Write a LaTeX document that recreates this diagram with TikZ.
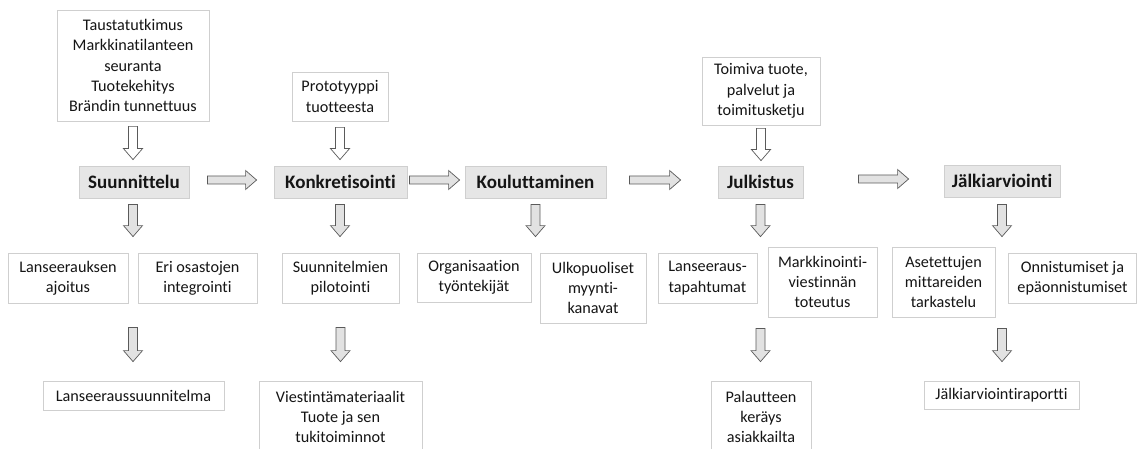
\documentclass[tikz,border=0pt]{standalone}
\usepackage{fontspec}
\setmainfont{Carlito}[Ligatures={NoCommon}]
\usetikzlibrary{calc}
\definecolor{boxline}{HTML}{CFCFCF}
\definecolor{phasefill}{HTML}{E6E6E6}
\definecolor{arrline}{HTML}{5A5A5A}
\definecolor{arrfill}{HTML}{E2E2E2}
\definecolor{txt}{HTML}{151515}
\begin{document}
\begin{tikzpicture}[x=1pt,y=-1pt,
  box/.style 2 args={draw=boxline, line width=0.8pt, fill=white, inner sep=0pt, align=center,
    text=txt, font=\fontsize{16.2}{20.3}\selectfont, minimum width=#1, minimum height=#2},
  phase/.style={draw=boxline, line width=0.8pt, fill=phasefill, inner sep=0pt,
    minimum height=32pt, minimum width=#1, text=txt, font=\fontsize{19}{23}\selectfont\bfseries},
  darrow/.style={draw=arrline, line width=0.7pt, fill=#1,
    to path={let \p1=(\tikztostart), \p2=(\tikztotarget) in
      (\x1-4.5pt,\y1) -- (\x1+4.5pt,\y1) -- (\x1+4.5pt,\y2+11pt) -- (\x1+9.5pt,\y2+11pt)
      -- (\x1,\y2) -- (\x1-9.5pt,\y2+11pt) -- (\x1-4.5pt,\y2+11pt) -- cycle}},
  darrow/.default=arrfill,
  rarrow/.style={draw=arrline, line width=0.7pt, fill=#1,
    to path={let \p1=(\tikztostart), \p2=(\tikztotarget) in
      (\x1,\y1-4pt) -- (\x2-11pt,\y1-4pt) -- (\x2-11pt,\y1-9.5pt) -- (\x2,\y1)
      -- (\x2-11pt,\y1+9.5pt) -- (\x2-11pt,\y1+4pt) -- (\x1,\y1+4pt) -- cycle}},
  rarrow/.default=arrfill]
\clip (0,0) rectangle (1137,449);
\fill[white] (0,0) rectangle (1137,449);

% input boxes
\node[box={152pt}{111pt}] (in1) at (133,65.5) {Taustatutkimus\\Markkinatilanteen\\seuranta\\Tuotekehitys\\Brändin tunnettuus};
\node[box={96pt}{49pt}] (in2) at (340,96.5) {Prototyyppi\\tuotteesta};
\node[box={118pt}{68pt}] (in3) at (761,91) {Toimiva tuote,\\palvelut ja\\toimitusketju};

% phases
\node[phase=110pt] (p1) at (134,182) {Suunnittelu};
\node[phase=133pt] (p2) at (340.5,182) {Konkretisointi};
\node[phase=141pt] (p3) at (535.5,182) {Kouluttaminen};
\node[phase=85pt] (p4) at (760.5,182) {Julkistus};
\node[phase=116pt] (p5) at (1002,181) {Jälkiarviointi};

% second row
\node[box={120pt}{50pt}] (a1) at (68,278) {Lanseerauksen\\ajoitus};
\node[box={119pt}{50pt}] (a2) at (197.5,278) {Eri osastojen\\integrointi};
\node[box={117pt}{50pt}] (b1) at (340.5,278) {Suunnitelmien\\pilotointi};
\node[box={114pt}{49pt}] (c1) at (474,277.5) {Organisaation\\työntekijät};
\node[box={106pt}{70pt}] (c2) at (593,288) {Ulkopuoliset\\myynti-\\kanavat};
\node[box={99pt}{50pt}] (d1) at (707.5,278) {Lanseeraus-\\tapahtumat};
\node[box={109pt}{70pt}] (d2) at (822.5,282) {Markkinointi-\\viestinnän\\toteutus};
\node[box={103pt}{70pt}] (e1) at (943.5,282) {Asetettujen\\mittareiden\\tarkastelu};
\node[box={128pt}{50pt}] (e2) at (1072.5,278) {Onnistumiset ja\\epäonnistumiset};

% third row
\node[box={181pt}{29pt}] (f1) at (133.5,395.5) {Lanseeraussuunnitelma};
\node[box={163pt}{72pt}] (g1) at (340.5,417) {Viestintämateriaalit\\Tuote ja sen\\tukitoiminnot};
\node[box={100pt}{72pt}] (h1) at (761,417) {Palautteen\\keräys\\asiakkailta};
\node[box={155pt}{28pt}] (i1) at (1001.5,395) {Jälkiarviointiraportti};

% inputs -> phases
\draw[darrow=white] ($(in1.south)+(0,5)$) to ($(p1.north)+(0,-6)$);
\draw[darrow=white] ($(in2.south)+(0,6)$) to ($(p2.north)+(0,-6)$);
\draw[darrow=white] ($(in3.south)+(0,3)$) to ($(p4.north)+(0,-5)$);

% phase -> phase
\draw[rarrow] ($(p1.east)+(18,-2)$) to ($(p2.west)+(-17,-2)$);
\draw[rarrow] ($(p2.east)+(2,-2)$) to ($(p3.west)+(-5,-2)$);
\draw[rarrow] ($(p3.east)+(23,-2)$) to ($(p4.west)+(-37,-2)$);
\draw[rarrow] ($(p4.east)+(55,-3)$) to ($(p5.west)+(-35,-2)$);

% phases -> second row
\draw[darrow] ($(p1.south)+(-1,6)$) to ($(a1.north)+(0,-16)$);
\draw[darrow] ($(p2.south)+(-0.5,6)$) to ($(b1.north)+(0,-16)$);
\draw[darrow] ($(p3.south)+(0,6)$) to ($(c1.north)+(0,-16)$);
\draw[darrow] ($(p4.south)+(0,6)$) to ($(d2.north)+(0,-10)$);
\draw[darrow] ($(p5.south)+(0,7)$) to ($(e1.north)+(0,-10)$);

% second row -> third row
\draw[darrow] ($(a1.south east)!0.5!(a2.south west)+(0,24)$) to ($(f1.north)+(0,-19)$);
\draw[darrow] ($(b1.south)+(0,24)$) to ($(g1.north)+(0,-19)$);
\draw[darrow] ($(p4 |- d2.south)+(0,11)$) to ($(h1.north)+(0,-19)$);
\draw[darrow] ($(p5 |- e1.south)+(0,11)$) to ($(i1.north)+(0,-19)$);
\end{tikzpicture}
\end{document}
